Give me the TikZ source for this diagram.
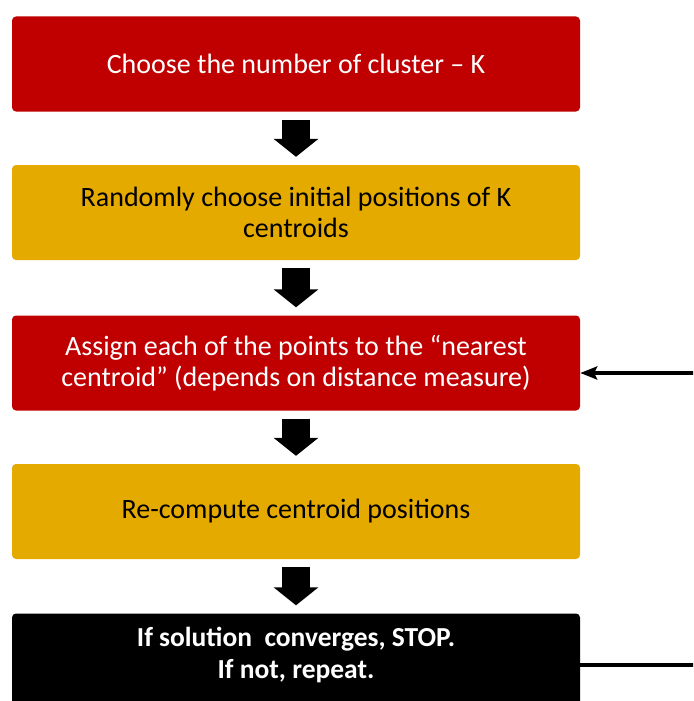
\documentclass[tikz,border=0pt]{standalone}
\usepackage{fontspec}
\setmainfont{Carlito}
\usetikzlibrary{arrows.meta}
\definecolor{boxred}{RGB}{192,0,0}
\definecolor{boxgold}{RGB}{229,170,0}

\begin{document}
\begin{tikzpicture}[x=1pt,y=-1pt,
  stepbox/.style={rectangle, rounded corners=4pt, minimum width=568pt, minimum height=95pt, inner sep=0pt, align=center, font=\fontsize{28}{31}\selectfont},
  redbox/.style={stepbox, fill=boxred, text=white},
  goldbox/.style={stepbox, fill=boxgold, text=black},
  blackbox/.style={stepbox, fill=black, text=white, text depth=17pt, font=\fontsize{27.5}{32}\selectfont\bfseries},
  bigarrow/.style={line width=28pt, -{Triangle[width=44pt,length=18pt]}, shorten <=8pt, shorten >=8pt},
  loop/.style={line width=3.5pt}]

\useasboundingbox (0,0) rectangle (693,701);
\clip (0,0) rectangle (693,701);

\node[redbox] (choose) at (296,64) {Choose the number of cluster -- K};
\node[goldbox] (init) at (296,212.5) {Randomly choose initial positions of K\\centroids};
\node[redbox] (assign) at (296,363) {Assign each of the points to the ``nearest\\centroid'' (depends on distance measure)};
\node[goldbox] (recompute) at (296,511.5) {Re-compute centroid positions};
\node[blackbox] (stop) at (296,661) {If solution\ \ converges, STOP.\\If not,\ repeat.};

\draw[bigarrow] (choose.south) -- (init.north);
\draw[bigarrow] (init.south) -- (assign.north);
\draw[bigarrow] (assign.south) -- (recompute.north);
\draw[bigarrow] (recompute.south) -- (stop.north);

% loop back, corner lies just past the right edge
\coordinate (corner) at (700,665);
\coordinate (back) at (700,373);
\draw[loop, -{Stealth[length=17pt,width=13pt,inset=3pt]}] (stop.east |- corner) -- (corner) -- (back) -- (assign.east |- back);
\end{tikzpicture}
\end{document}
